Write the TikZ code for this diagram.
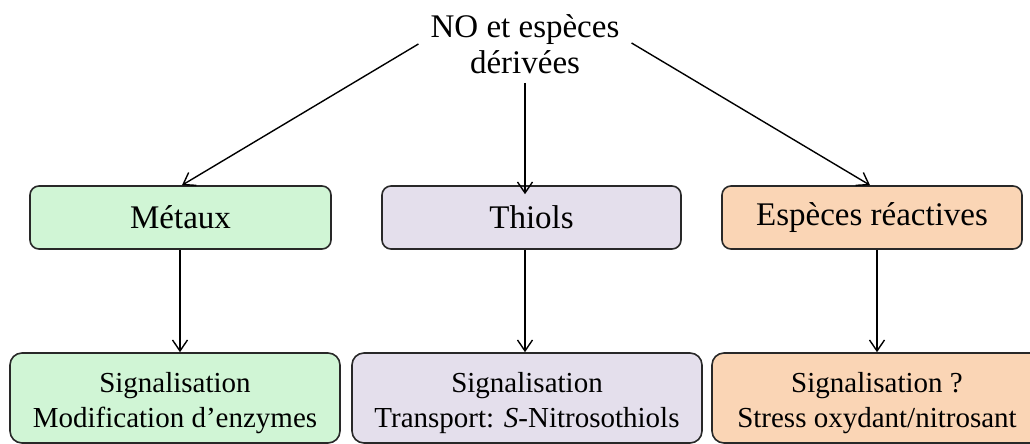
\documentclass[tikz,border=0pt]{standalone}
\usepackage{fontspec}
\setmainfont{Liberation Serif}
\usetikzlibrary{arrows.meta}
\definecolor{vert}{RGB}{208,245,213}
\definecolor{lavande}{RGB}{228,223,236}
\definecolor{orange}{RGB}{250,213,181}
\definecolor{bord}{RGB}{40,40,40}
\newcommand\hstrut{\rule{0pt}{31pt}}
\tikzset{
  cat/.style={draw=bord, line width=1.6pt, rounded corners=9pt, minimum height=63pt, inner sep=0pt,
    font=\fontsize{33}{36}\selectfont},
  res/.style={draw=bord, line width=1.6pt, rounded corners=12pt, minimum height=90pt, inner sep=0pt,
    align=center, font=\fontsize{29}{35}\selectfont},
  fl/.style={line width=1.4pt, -{Straight Barb[length=11pt,width=15pt,line width=1.4pt]}}
}
\begin{document}
\begin{tikzpicture}[x=1pt,y=-1pt]
\useasboundingbox (0,0) rectangle (1030,444);
\clip (0,0) rectangle (1030,444);
\node[align=center, font=\fontsize{33}{36}\selectfont, inner sep=0pt] (top) at (525,44) {NO et espèces\\dérivées};
\node[cat, fill=vert, minimum width=301pt] (met) at (180.5,217.5) {Métaux};
\node[cat, fill=lavande, minimum width=299pt] (thi) at (531.5,217.5) {Thiols};
\node[cat, fill=orange, minimum width=300pt] (esp) at (872,217.5) {Espèces réactives};
\node[res, fill=vert, minimum width=330pt] (s1) at (175,398) {\hstrut Signalisation\\Modification d’enzymes};
\node[res, fill=lavande, minimum width=350pt] (s2) at (527,398) {\hstrut Signalisation\\Transport: \textit{S}-Nitrosothiols};
\node[res, fill=orange, minimum width=330pt] (s3) at (877,398) {\hstrut Signalisation ?\\Stress oxydant/nitrosant};
\draw[fl] ([xshift=-12pt]top.west) -- ([xshift=1.5pt]met.north);
\draw[fl] ([yshift=-9pt]top.south) -- ([yshift=-9pt]top.south |- thi.north);
\draw[fl] ([xshift=12pt,yshift=1pt]top.east) -- ([xshift=-2pt]esp.north);
\draw[fl] ([xshift=-0.5pt]met.south) -- ([xshift=-0.5pt]met.south |- s1.north);
\draw[fl] (top.south |- thi.south) -- (top.south |- s2.north);
\draw[fl] ([xshift=5pt]esp.south) -- ([xshift=5pt]esp.south |- s3.north);
\end{tikzpicture}
\end{document}
